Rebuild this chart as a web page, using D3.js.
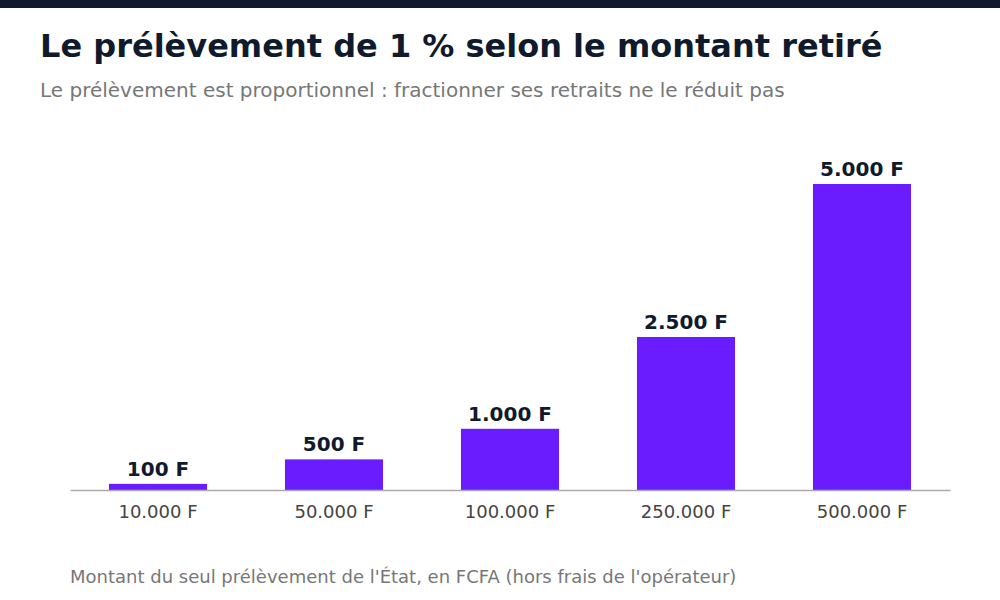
<!DOCTYPE html>
<html>
<head>
<meta charset="utf-8">
<script src="https://cdn.jsdelivr.net/npm/d3@7"></script>
<style>
  body { margin: 0; background: #fff; }
  text { font-family: "DejaVu Sans", sans-serif; }
</style>
</head>
<body>
<div id="chart"></div>
<script>
// data
var montants = ["10.000 F", "50.000 F", "100.000 F", "250.000 F", "500.000 F"];
var prelevements = [100, 500, 1000, 2500, 5000];
var labels = ["100 F", "500 F", "1.000 F", "2.500 F", "5.000 F"];

var width = 1000, height = 600;
var margin = {top: 184, right: 50, bottom: 110, left: 70};

var svg = d3.select("#chart")
  .append("svg")
  .attr("width", width)
  .attr("height", height);

// top band
svg.append("rect")
  .attr("x", 0).attr("y", 0)
  .attr("width", width).attr("height", 8)
  .attr("fill", "#0f1b2d");

svg.append("text")
  .attr("x", 40).attr("y", 57)
  .text("Le prélèvement de 1 % selon le montant retiré")
  .style("font-size", "32px")
  .style("font-weight", "bold")
  .style("fill", "#0f1b2d");

svg.append("text")
  .attr("x", 40).attr("y", 97)
  .text("Le prélèvement est proportionnel : fractionner ses retraits ne le réduit pas")
  .style("font-size", "20px")
  .style("fill", "#777");

var x = d3.scaleBand()
  .domain(montants)
  .range([margin.left, width - margin.right])
  .paddingInner(0.443)
  .paddingOuter(0.2215);

var y = d3.scaleLinear()
  .domain([0, 5000])
  .range([height - margin.bottom, margin.top]);

var g = svg.append("g");

g.selectAll("rect.bar")
  .data(prelevements)
  .enter()
  .append("rect")
    .attr("class", "bar")
    .attr("x", function(d, i) { return x(montants[i]); })
    .attr("y", function(d) { return y(d); })
    .attr("width", x.bandwidth())
    .attr("height", function(d) { return y(0) - y(d); })
    .attr("fill", "#6a1cff");

g.selectAll("text.val")
  .data(prelevements)
  .enter()
  .append("text")
    .attr("class", "val")
    .attr("x", function(d, i) { return x(montants[i]) + x.bandwidth() / 2; })
    .attr("y", function(d) { return y(d) - 8; })
    .attr("text-anchor", "middle")
    .text(function(d, i) { return labels[i]; })
    .style("font-size", "20px")
    .style("font-weight", "bold")
    .style("fill", "#0f1b2d");

// x axis
var xAxis = svg.append("g")
  .attr("transform", "translate(0," + y(0) + ")")
  .call(d3.axisBottom(x).tickSize(0).tickPadding(15));
xAxis.select(".domain").attr("stroke", "#aaa").attr("stroke-width", 1.5);
xAxis.selectAll("text")
  .style("font-size", "18px")
  .style("fill", "#444")
  .style("font-family", "DejaVu Sans, sans-serif");

svg.append("text")
  .attr("x", 70).attr("y", 583)
  .text("Montant du seul prélèvement de l'État, en FCFA (hors frais de l'opérateur)")
  .style("font-size", "18px")
  .style("fill", "#777");
</script>
</body>
</html>
